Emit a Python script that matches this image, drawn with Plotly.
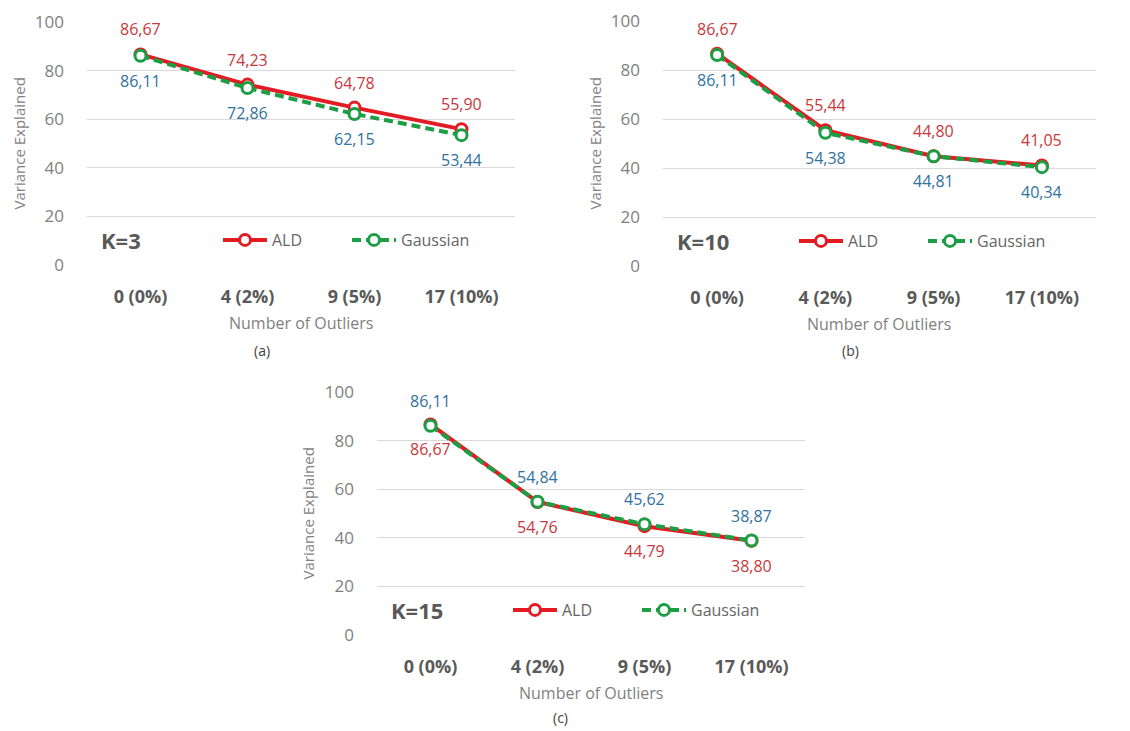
import plotly.graph_objects as go

OFF = 8
W, H = 1130 - OFF, 731 - OFF

categories = ["0 (0%)", "4 (2%)", "9 (5%)", "17 (10%)"]
y_ticks = [0, 20, 40, 60, 80, 100]

ald_k3 = [86.67, 74.23, 64.78, 55.90]
gau_k3 = [86.11, 72.86, 62.15, 53.44]
ald_k10 = [86.67, 55.44, 44.80, 41.05]
gau_k10 = [86.11, 54.38, 44.81, 40.34]
ald_k15 = [86.67, 54.76, 44.79, 38.80]
gau_k15 = [86.11, 54.84, 45.62, 38.87]

panel_names = ["K=3", "K=10", "K=15"]
panel_letters = ["(a)", "(b)", "(c)"]

FONT = "Open Sans, Noto Sans, sans-serif"
RED = "#e31b23"
GREEN = "#1c9e45"
RED_TXT = "#c8383c"
BLUE_TXT = "#2f72a0"
GRID = "#d9d9d9"
GRAY = "#7f7f7f"
DARK = "#595959"

boxes = [(87, 515, 22, 265), (663, 1096, 21, 266), (377, 805, 392, 635)]
letter_pos = [(262, 350), (850, 350), (560, 717)]
ald_above = [True, True, False]
data = [(ald_k3, gau_k3), (ald_k10, gau_k10), (ald_k15, gau_k15)]


def px(x):
    return (x - OFF) / W


def py(y):
    return 1 - (y - OFF) / H


fig = go.Figure()
annotations = []
legend_names = ["legend", "legend2", "legend3"]

for i, ((l, r, t, b), (ald, gau)) in enumerate(zip(boxes, data)):
    sfx = "" if i == 0 else str(i + 1)
    xa, ya = "x" + sfx, "y" + sfx
    fig.add_trace(go.Scatter(
        x=categories, y=ald, name="ALD", mode="lines+markers",
        xaxis=xa, yaxis=ya, legend=legend_names[i],
        line=dict(color=RED, width=4),
        marker=dict(symbol="circle", size=11, color="white",
                    line=dict(color=RED, width=3)),
        hoverinfo="skip"))
    fig.add_trace(go.Scatter(
        x=categories, y=gau, name="Gaussian", mode="lines+markers",
        xaxis=xa, yaxis=ya, legend=legend_names[i],
        line=dict(color=GREEN, width=4, dash="9px,5px"),
        marker=dict(symbol="circle", size=11, color="white",
                    line=dict(color=GREEN, width=3)),
        hoverinfo="skip"))

    fig.layout["xaxis" + sfx] = dict(
        domain=[px(l), px(r)], anchor=ya, type="category",
        categoryorder="array", categoryarray=categories,
        range=[-0.5, 3.5], showgrid=False, showline=False, zeroline=False,
        ticks="", ticklabelstandoff=19,
        tickfont=dict(family=FONT, size=18, color=DARK, weight="bold"))
    fig.layout["yaxis" + sfx] = dict(
        domain=[py(b), py(t)], anchor=xa, range=[0, 100.001],
        tickvals=y_ticks, showgrid=True, gridcolor=GRID, gridwidth=1,
        zeroline=False, showline=False, ticks="", ticklabelstandoff=22,
        ticklabeloverflow="allow",
        tickfont=dict(family=FONT, size=17, color=GRAY))

    for j, c in enumerate(categories):
        a_sh, g_sh = (25, -25) if ald_above[i] else (-25, 25)
        annotations.append(dict(x=c, y=ald[j], xref=xa, yref=ya, yshift=a_sh,
                                xanchor="center", yanchor="middle",
                                text=f"{ald[j]:.2f}".replace(".", ","), showarrow=False,
                                font=dict(family=FONT, size=16, color=RED_TXT)))
        annotations.append(dict(x=c, y=gau[j], xref=xa, yref=ya, yshift=g_sh,
                                xanchor="center", yanchor="middle",
                                text=f"{gau[j]:.2f}".replace(".", ","), showarrow=False,
                                font=dict(family=FONT, size=16, color=BLUE_TXT)))

    annotations.append(dict(x=px((l + r) / 2), y=py(b + 58), xref="paper", yref="paper",
                            xanchor="center", yanchor="middle",
                            text="Number of Outliers", showarrow=False,
                            font=dict(family=FONT, size=16, color=GRAY)))
    annotations.append(dict(x=px(l - 69), y=py((t + b) / 2), xref="paper", yref="paper",
                            xanchor="center", yanchor="middle",
                            text="Variance Explained", showarrow=False, textangle=-90,
                            font=dict(family=FONT, size=15, color=GRAY)))
    annotations.append(dict(x=px(l + 12), y=py(b - 25), xref="paper", yref="paper",
                            xanchor="left", yanchor="middle",
                            text="<b>" + panel_names[i] + "</b>", showarrow=False,
                            font=dict(family=FONT, size=22, color=DARK)))
    annotations.append(dict(x=px(letter_pos[i][0]), y=py(letter_pos[i][1]),
                            xref="paper", yref="paper",
                            xanchor="center", yanchor="middle",
                            text=panel_letters[i], showarrow=False,
                            font=dict(family=FONT, size=14, color="#404040")))
    fig.layout[legend_names[i]] = dict(
        x=px(l + 131), y=py(b - 25), xanchor="left", yanchor="middle",
        orientation="h", bgcolor="rgba(0,0,0,0)", entrywidth=70, itemwidth=44,
        font=dict(family=FONT, size=16, color="#666666"), itemclick=False)

fig.update_layout(
    width=W, height=H, margin=dict(l=0, r=0, t=0, b=0, autoexpand=False),
    paper_bgcolor="white", plot_bgcolor="white",
    annotations=annotations, showlegend=True)

fig.write_html("out.html")
